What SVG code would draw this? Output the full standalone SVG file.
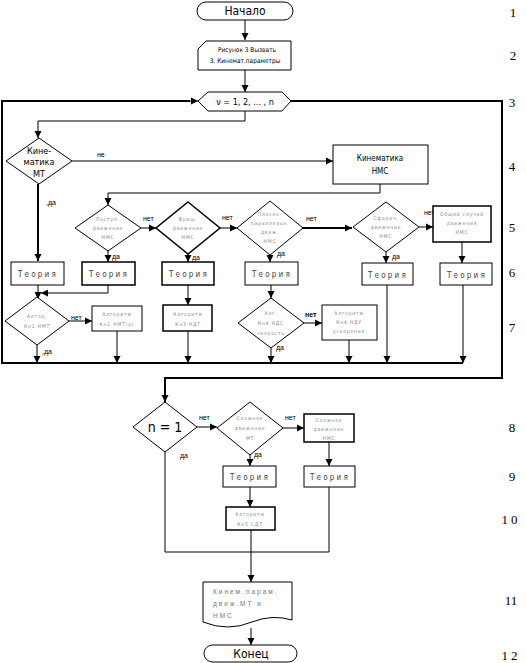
<svg xmlns="http://www.w3.org/2000/svg" width="526" height="663" viewBox="0 0 526 663">
<style>
.sh{fill:#fff;stroke:#000;stroke-width:1}
.tk{fill:#fff;stroke:#000;stroke-width:1.5}
.ln{fill:none;stroke:#000;stroke-width:1}
.lt{fill:none;stroke:#000;stroke-width:2}
.t{font-family:"Liberation Sans Narrow","DejaVu Sans Condensed","Liberation Sans",sans-serif;text-anchor:middle;fill:#000}
.s{font-size:5px;letter-spacing:0.8px;fill:#888}
.th{font-size:8px;letter-spacing:2.2px;fill:#444}
.lb{font-family:"Liberation Sans","DejaVu Sans",sans-serif;font-size:7px;fill:#000}
.num{font-family:"Liberation Serif","DejaVu Serif",serif;font-size:13px;fill:#000;text-anchor:middle}
.dl{font-family:"Liberation Sans","DejaVu Sans",sans-serif;font-size:6.5px;fill:#777;letter-spacing:2px}
</style>
<defs>
<marker id="ar" markerWidth="8" markerHeight="8" refX="7" refY="4" orient="auto" markerUnits="userSpaceOnUse">
<path d="M0,0.5 L7,4 L0,7.5 Z" fill="#000"/>
</marker>
</defs>
<rect width="526" height="663" fill="#fff"/>

<g id="connectors">
<path class="ln" d="M245,20 V40" marker-end="url(#ar)" stroke-width="1.5"/>
<path class="ln" d="M245,70 V92" marker-end="url(#ar)"/>
<path class="lt" d="M291,101 H502 V378 H165 V402"/>
<path class="ln" d="M165,390 V402" marker-end="url(#ar)"/>
<path class="lt" d="M463,363 H2 V101 H190"/>
<path class="ln" d="M185,101 H198" marker-end="url(#ar)" stroke-width="2"/>
<path class="ln" d="M245,111 V121 H38 V138" marker-end="url(#ar)"/>
<path class="ln" d="M72,161 H333" marker-end="url(#ar)"/>
<path class="ln" d="M380,184 V193 H108 V205" marker-end="url(#ar)"/>
<path class="lt" d="M38,184 V261" marker-end="url(#ar)"/>
<path class="ln" d="M141,228 H156" marker-end="url(#ar)"/>
<path class="ln" d="M220,228 H237" marker-end="url(#ar)"/>
<path class="lt" d="M303,228 H352" marker-end="url(#ar)"/>
<path class="ln" d="M419,227 H433" marker-end="url(#ar)"/>
<path class="ln" d="M108,251 V262" marker-end="url(#ar)"/>
<path class="ln" d="M188,254 V262" marker-end="url(#ar)" stroke-width="1.5"/>
<path class="ln" d="M270,255 V262" marker-end="url(#ar)"/>
<path class="ln" d="M386,252 V263" marker-end="url(#ar)"/>
<path class="ln" d="M462,242 V263" marker-end="url(#ar)"/>
<path class="ln" d="M38,285 V299" marker-end="url(#ar)"/>
<path class="ln" d="M108,285 V293 H41" marker-end="url(#ar)"/>
<path class="ln" d="M188,285 V305" marker-end="url(#ar)"/>
<path class="ln" d="M271,285 V298" marker-end="url(#ar)"/>
<path class="ln" d="M387,285 V363" marker-end="url(#ar)"/>
<path class="ln" d="M463,285 V363" marker-end="url(#ar)"/>
<path class="ln" d="M69,321 H92" marker-end="url(#ar)"/>
<path class="ln" d="M304,323 H322" marker-end="url(#ar)"/>
<path class="ln" d="M37,345 V363" marker-end="url(#ar)"/>
<path class="ln" d="M117,331 V363" marker-end="url(#ar)"/>
<path class="ln" d="M188,331 V363" marker-end="url(#ar)"/>
<path class="ln" d="M271,348 V363" marker-end="url(#ar)"/>
<path class="ln" d="M349,340 V363" marker-end="url(#ar)"/>
<path class="ln" d="M197,427 H217" marker-end="url(#ar)"/>
<path class="ln" d="M283,428 H304" marker-end="url(#ar)"/>
<path class="ln" d="M250,455 V466" marker-end="url(#ar)"/>
<path class="ln" d="M329,442 V466" marker-end="url(#ar)"/>
<path class="ln" d="M250,487 V507" marker-end="url(#ar)"/>
<path class="ln" d="M165,452 V552 H329 V487"/>
<path class="ln" d="M251,530 V582" marker-end="url(#ar)" stroke-width="1.5"/>
<path class="ln" d="M251,628 V645" marker-end="url(#ar)"/>
<text class="lb" x="97" y="157">не</text>
<text class="lb" x="46" y="205">,да</text>
<text class="lb" x="143" y="221">нет</text>
<text class="lb" x="112" y="259">да</text>
<text class="lb" x="222" y="220">нет</text>
<text class="lb" x="192" y="260">да</text>
<text class="lb" x="306" y="221">нет</text>
<text class="lb" x="277" y="256">да</text>
<text class="lb" x="424" y="215">нет</text>
<text class="lb" x="392" y="259">да</text>
<text class="lb" x="71" y="320">нет</text>
<text class="lb" x="42" y="354">,да</text>
<text class="lb" x="305" y="317" font-weight="bold">нет</text>
<text class="lb" x="276" y="350">да</text>
<text class="lb" x="199" y="420">нет</text>
<text class="lb" x="180" y="458">да</text>
<text class="lb" x="285" y="420">нет</text>
<text class="lb" x="254" y="457">да</text>
</g>

<g id="n1"><rect class="sh" x="197" y="2" width="96" height="18" rx="9"/><text class="t" x="245" y="15" font-size="12">Начало</text></g>
<g id="n2"><path class="sh" d="M206,41 H291 V70 H198 V49 Z"/><text class="t" x="247" y="52" font-size="6.5">Рисунок 3 Вызвать</text><text class="t" x="245" y="63" font-size="6.5">3. Кинемат.параметры</text></g>
<g id="n3"><path class="sh" d="M198,101 L208,92 H282 L291,101 L282,111 H208 Z"/><text class="t" x="245" y="105" font-size="9" fill="#777">ν = 1, 2, ... , n</text></g>
<g id="n4"><path class="sh" d="M39,138 L72,161 L39,184 L6,161 Z"/><text class="t" x="39" y="154" font-size="9">Кине-</text><text class="t" x="39" y="165" font-size="9">матика</text><text class="t" x="39" y="177" font-size="9">МТ</text></g>
<g id="n5"><rect class="sh" x="333" y="145" width="95" height="39"/><text class="t" x="380" y="161" font-size="8" fill="#444">Кинематика</text><text class="t" x="380" y="174" font-size="8" fill="#444">НМС</text></g>
<g id="n6"><path class="sh" d="M108,205 L141,228 L108,251 L75,228 Z"/><text class="t s" x="108" y="221">Поступ.</text><text class="t s" x="108" y="230">движение</text><text class="t s" x="108" y="239">НМС</text></g>
<g id="n7"><path class="tk" d="M188,202 L220,228 L188,254 L156,228 Z"/><text class="t s" x="188" y="221">Вращ.</text><text class="t s" x="188" y="230">движение</text><text class="t s" x="188" y="239">НМС</text></g>
<g id="n8"><path class="sh" d="M270,201 L303,228 L270,255 L237,228 Z"/><text class="t s" x="270" y="216">Плоско-</text><text class="t s" x="270" y="225">параллельн.</text><text class="t s" x="270" y="234">движ.</text><text class="t s" x="270" y="243">НМС</text></g>
<g id="n9"><path class="sh" d="M386,202 L419,227 L386,252 L353,227 Z"/><text class="t s" x="386" y="220">Сферич.</text><text class="t s" x="386" y="229">движение</text><text class="t s" x="386" y="238">НМС</text></g>
<g id="n10"><rect class="tk" x="433" y="206" width="58" height="36"/><text class="t s" x="462" y="216" letter-spacing="0.3">Общий случай</text><text class="t s" x="462" y="225">движения</text><text class="t s" x="462" y="234">НМС</text></g>
<g id="n11"><rect class="sh" x="11" y="262" width="53" height="23"/><text class="t th" x="38" y="277">Теория</text></g>
<g id="n12"><rect class="tk" x="82" y="262" width="53" height="23"/><text class="t th" x="109" y="277">Теория</text></g>
<g id="n13"><rect class="tk" x="162" y="262" width="52" height="23"/><text class="t th" x="189" y="277">Теория</text></g>
<g id="n14"><rect class="sh" x="245" y="262" width="53" height="23"/><text class="t th" x="272" y="277">Теория</text></g>
<g id="n15"><rect class="sh" x="362" y="263" width="51" height="22"/><text class="t th" x="388" y="278">Теория</text></g>
<g id="n16"><rect class="sh" x="440" y="263" width="52" height="22"/><text class="t th" x="467" y="278">Теория</text></g>
<g id="n17"><path class="sh" d="M37,297 L69,321 L37,345 L5,321 Z"/><text class="t s" x="37" y="318">Алгор.</text><text class="t s" x="37" y="328">Кн1 НМТ</text></g>
<g id="n18"><rect class="sh" x="92" y="306" width="50" height="25"/><text class="t s" x="117" y="316">Алгоритм</text><text class="t s" x="117" y="326">Кн1 НМТ(р)</text></g>
<g id="n19"><rect class="tk" x="163" y="305" width="49" height="26"/><text class="t s" x="188" y="316">Алгоритм</text><text class="t s" x="188" y="326">Кн3 НДТ</text></g>
<g id="n20"><path class="sh" d="M271,298 L304,323 L271,348 L238,323 Z"/><text class="t s" x="271" y="315">Алг.</text><text class="t s" x="271" y="325">Кн4 НДС</text><text class="t s" x="271" y="335">скорость</text></g>
<g id="n21"><rect class="sh" x="322" y="305" width="55" height="35"/><text class="t s" x="349" y="315">Алгоритм</text><text class="t s" x="349" y="324">Кн4 НДУ</text><text class="t s" x="349" y="333">ускорения</text></g>
<g id="n22"><path class="sh" d="M165,402 L197,427 L165,452 L133,427 Z"/><text class="t" x="165" y="432" font-size="14">n = 1</text></g>
<g id="n23"><path class="sh" d="M250,402 L283,428 L250,455 L217,428 Z"/><text class="t s" x="250" y="420">Сложное</text><text class="t s" x="250" y="430">движение</text><text class="t s" x="250" y="440">МТ</text></g>
<g id="n24"><rect class="tk" x="304" y="414" width="50" height="28"/><text class="t s" x="329" y="422">Сложное</text><text class="t s" x="329" y="431">движение</text><text class="t s" x="329" y="440">НМС</text></g>
<g id="n25"><rect class="sh" x="223" y="466" width="53" height="21"/><text class="t th" x="250" y="480">Теория</text></g>
<g id="n26"><rect class="sh" x="304" y="466" width="51" height="21"/><text class="t th" x="330" y="480">Теория</text></g>
<g id="n27"><rect class="tk" x="226" y="507" width="49" height="23"/><text class="t s" x="250" y="516">Алгоритм</text><text class="t s" x="250" y="526">Кн5 СДТ</text></g>
<g id="n28"><path class="sh" d="M203,582 H292 V620 Q272,614 252,622 Q228,632 203,622 Z"/><text class="dl" x="213" y="594">Кинем.парам.</text><text class="dl" x="213" y="606">движ.МТ и</text><text class="dl" x="213" y="618">НМС</text></g>
<g id="n29"><rect class="sh" x="204" y="645" width="93" height="17" rx="8.5"/><text class="t" x="251" y="658" font-size="12">Конец</text></g>

<g id="rownums">
<text class="num" x="513" y="17">1</text>
<text class="num" x="513" y="60">2</text>
<text class="num" x="512" y="107">3</text>
<text class="num" x="512" y="171">4</text>
<text class="num" x="512" y="232">5</text>
<text class="num" x="512" y="277">6</text>
<text class="num" x="512" y="332">7</text>
<text class="num" x="512" y="432">8</text>
<text class="num" x="512" y="481">9</text>
<text class="num" x="511" y="524" letter-spacing="3">10</text>
<text class="num" x="511" y="605">11</text>
<text class="num" x="511" y="660" letter-spacing="3">12</text>
</g>
</svg>
